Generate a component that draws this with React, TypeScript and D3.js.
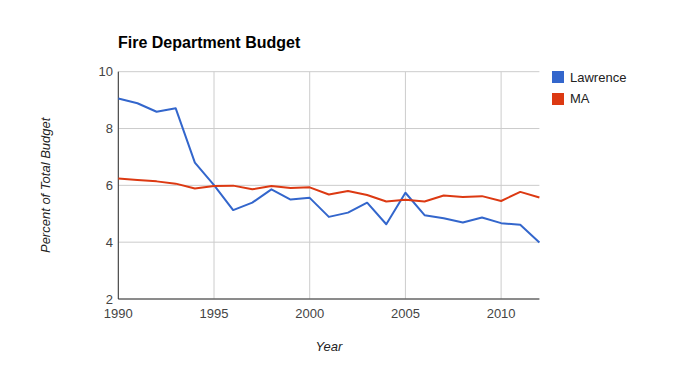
import React from "react";
import * as d3 from "d3";

const years = [1990,1991,1992,1993,1994,1995,1996,1997,1998,1999,2000,2001,2002,2003,2004,2005,2006,2007,2008,2009,2010,2011,2012];
const lawrence = [9.06,8.89,8.59,8.71,6.80,6.01,5.13,5.39,5.86,5.50,5.56,4.89,5.04,5.39,4.63,5.74,4.95,4.84,4.69,4.87,4.67,4.61,3.99];
const ma = [6.24,6.19,6.14,6.06,5.89,5.98,5.99,5.86,5.98,5.91,5.93,5.68,5.80,5.66,5.43,5.49,5.43,5.64,5.59,5.62,5.45,5.77,5.57];
const xTicks = [1990,1995,2000,2005,2010];
const yTicks = [2,4,6,8,10];
const seriesNames = ["Lawrence","MA"];
const colors = ["#3366cc","#dc3912"];

export default function App() {
  const W = 685, H = 386;
  const left = 118.3, right = 539.4, top = 71.7, bottom = 299;
  const x = d3.scaleLinear().domain([1990, 2012]).range([left, right]);
  const y = d3.scaleLinear().domain([2, 10]).range([bottom, top]);
  const line = d3.line<number>().x((_, i) => x(years[i])).y(d => y(d));
  const series = [lawrence, ma];
  const font = "Arial, 'Liberation Sans', sans-serif";
  return (
    <svg width={W} height={H} style={{position:"absolute", left:0, top:0, background:"#fff"}} fontFamily={font}>
      <text x={118} y={48} fontSize={16} fontWeight="bold" fill="#000">Fire Department Budget</text>
      {yTicks.map(t => (
        <g key={"y"+t}>
          <line x1={left} x2={right} y1={y(t)} y2={y(t)} stroke="#cccccc" strokeWidth={1} />
          <text x={113} y={y(t)+4.5} fontSize={13} fill="#444" textAnchor="end">{t}</text>
        </g>
      ))}
      {xTicks.map(t => (
        <g key={"x"+t}>
          <line x1={x(t)} x2={x(t)} y1={top} y2={bottom} stroke="#cccccc" strokeWidth={1} />
          <text x={x(t)} y={bottom+19} fontSize={13} fill="#444" textAnchor="middle">{t}</text>
        </g>
      ))}
      <line x1={left} x2={left} y1={top} y2={bottom} stroke="#333" strokeWidth={1} />
      <line x1={left} x2={right} y1={bottom} y2={bottom} stroke="#333" strokeWidth={1} />
      {series.map((s, i) => (
        <path key={i} d={line(s) || ""} fill="none" stroke={colors[i]} strokeWidth={2} strokeLinejoin="round" />
      ))}
      <text x={0} y={0} transform={`translate(50,${(top+bottom)/2}) rotate(-90)`} fontSize={13} fontStyle="italic" fill="#222" textAnchor="middle">Percent of Total Budget</text>
      <text x={(left+right)/2} y={351} fontSize={13} fontStyle="italic" fill="#222" textAnchor="middle">Year</text>
      {seriesNames.map((n, i) => (
        <g key={n}>
          <rect x={552} y={71 + i*22} width={12} height={12} fill={colors[i]} />
          <text x={570} y={82 + i*21} fontSize={13} fill="#222">{n}</text>
        </g>
      ))}
    </svg>
  );
}
